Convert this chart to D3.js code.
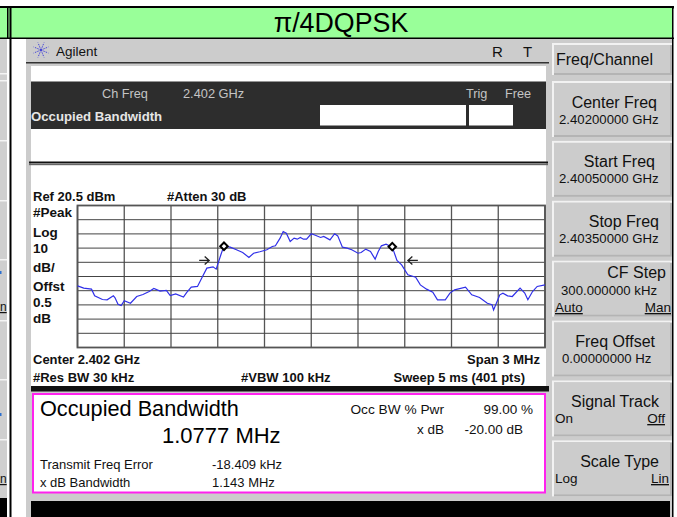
<!DOCTYPE html>
<html>
<head>
<meta charset="utf-8">
<script src="https://cdn.jsdelivr.net/npm/d3@7"></script>
<style>
  html, body { margin: 0; padding: 0; background: #fff; }
  svg { display: block; font-family: "Liberation Sans", Arial, sans-serif; }
</style>
</head>
<body>
<div id="chart"></div>
<script>
// trace: MHz from centre, dBm
const freqOffsets = [-1.50,-1.46,-1.41,-1.39,-1.34,-1.31,-1.27,-1.26,-1.24,-1.22,-1.20,-1.16,-1.12,-1.08,-1.04,-1.01,-0.97,-0.93,-0.905,-0.87,-0.82,-0.80,-0.77,-0.73,-0.70,-0.67,-0.63,-0.61,-0.58,-0.56,-0.52,-0.48,-0.44,-0.40,-0.37,-0.33,-0.285,-0.25,-0.23,-0.20,-0.18,-0.16,-0.135,-0.11,-0.09,-0.07,-0.05,-0.03,0.00,0.03,0.06,0.08,0.12,0.15,0.17,0.20,0.23,0.26,0.30,0.32,0.35,0.38,0.41,0.43,0.45,0.48,0.52,0.55,0.58,0.62,0.67,0.70,0.74,0.78,0.81,0.86,0.89,0.92,0.99,1.03,1.08,1.13,1.16,1.17,1.21,1.23,1.26,1.29,1.34,1.37,1.39,1.42,1.45,1.50];
const levels = [-36.1,-37.7,-38.4,-43.1,-45.7,-45.9,-43.1,-44.3,-49.0,-49.9,-46.6,-48.3,-43.6,-42.2,-40.1,-37.9,-39.8,-39.3,-42.9,-41.7,-44.0,-40.8,-37.0,-36.5,-30.0,-23.6,-22.7,-24.3,-14.2,-7.9,-8.8,-10.7,-12.6,-16.1,-13.1,-12.1,-10.7,-8.4,-7.9,-2.5,2.2,1.0,-4.8,-2.5,-3.2,-2.0,-3.2,-3.2,0.6,-0.6,-2.0,-1.3,-3.7,0.6,-0.9,-8.8,-9.5,-10.7,-13.1,-12.6,-10.2,-11.9,-17.3,-11.9,-7.9,-6.7,-8.8,-18.2,-21.3,-28.3,-30.0,-35.4,-38.4,-40.5,-45.9,-45.9,-41.2,-38.9,-37.0,-42.4,-44.3,-48.3,-49.4,-53.0,-42.4,-41.2,-43.1,-43.6,-37.7,-41.2,-45.9,-40.1,-36.5,-35.4];

const xTicks = [-1.5,-1.2,-0.9,-0.6,-0.3,0,0.3,0.6,0.9,1.2,1.5];
const yTicks = [20.5,10.5,0.5,-9.5,-19.5,-29.5,-39.5,-49.5,-59.5,-69.5,-79.5];

const markerFreqs = [-0.56,0.52];
const markerLevels = [-8.2,-8.5];
const arrowFreqs = [-0.655,0.62];
const arrowLevel = -18.2;

const keyLabels = ["Center Freq","Start Freq","Stop Freq","CF Step","Freq Offset","Signal Track","Scale Type"];
const keyValues = ["2.40200000 GHz","2.40050000 GHz","2.40350000 GHz","300.000000 kHz","0.00000000  Hz",null,null];
const keyLeft = [null,null,null,"Auto",null,"On","Log"];
const keyRight = [null,null,null,"Man",null,"Off","Lin"];
const scaleLabels = ["#Peak","Log","10","dB/","Offst","0.5","dB"];

// softkey text placement, same order as keyLabels
const keyLabelRight = [657,655,659,666,655,659,659];
const keyLabelBase = [108,167,227,278,347,407,467];
const keyValueLeft = [559,559,559,561,562,0,0];
const keyValueBase = [124,183,243,295,363,0,0];
const keySideBase = [0,0,0,312,0,423,483];
const keySideRight = [0,0,0,671,0,665,669];
const scaleLabelBase = [217,236.5,253,271.5,291,307,323];

const W = 677, H = 517;
const svg = d3.select("#chart").append("svg").attr("width", W).attr("height", H);

function rect(x, y, w, h, fill) {
  return svg.append("rect").attr("x", x).attr("y", y).attr("width", w).attr("height", h).attr("fill", fill);
}
function label(x, y, str, size, opts = {}) {
  return svg.append("text").attr("x", x).attr("y", y)
    .attr("font-size", size)
    .attr("font-weight", opts.bold ? "bold" : "normal")
    .attr("fill", opts.fill || "#111")
    .attr("text-anchor", opts.anchor || "start")
    .attr("text-decoration", opts.underline ? "underline" : null)
    .text(str);
}

// left sliver of the neighbouring screenshot
rect(0, 39, 7, 459, "#cfcfcf");
[73, 80, 140, 200, 259, 320, 379, 439].forEach(d => rect(0, d, 7, 1.5, "#f4f4f4"));
rect(0, 498, 7, 19, "#000");
rect(0, 271, 1.5, 3, "#2b6fd0");
rect(0, 413, 1.5, 3, "#2b6fd0");
label(0, 311, "n", 12, { underline: true });
label(0, 483, "n", 12, { underline: true });

// page + title bar
rect(0, 6, 674, 2.5, "#000");
rect(0, 8, 672, 30, "#99ff99");
rect(0, 37.5, 674, 1.5, "#000");
rect(7, 8, 1.5, 30, "#000");
rect(9.5, 8, 2, 509, "#000");
rect(672, 6, 1.5, 511, "#000");
label(341, 32, "π/4DQPSK", 26.8, { anchor: "middle", fill: "#000" });

// instrument window
rect(26, 39, 646, 478, "#cccccc");
rect(31, 66, 515, 325, "#ffffff");
rect(26, 62, 523, 1.5, "#333");
rect(31, 81.5, 515, 47.5, "#2d2d2d");
rect(29, 161.5, 519, 2, "#111");
rect(29, 164, 519, 1.2, "#666");
rect(320, 105, 146, 20.5, "#fff");
rect(469, 105, 44, 20.5, "#fff");

// agilent logo
const logo = svg.append("g").attr("transform", "translate(41,50)").attr("stroke", "#3a3ad8").attr("stroke-width", 0.9).attr("stroke-dasharray", "1.5 1");
d3.range(8).forEach(i => {
  const a = i * Math.PI / 4 + Math.PI / 8;
  logo.append("line").attr("x1", 0).attr("y1", 0).attr("x2", 8 * Math.cos(a)).attr("y2", 8 * Math.sin(a));
});
label(56, 56, "Agilent", 13.5);
label(492, 57, "R", 15);
label(523, 57, "T", 15);

label(102, 98, "Ch Freq", 12.7, { fill: "#c4c4c4" });
label(183, 98, "2.402 GHz", 12.8, { fill: "#c4c4c4" });
label(466, 98, "Trig", 12.7, { fill: "#c4c4c4" });
label(505, 98, "Free", 12.7, { fill: "#c4c4c4" });
label(31, 121, "Occupied Bandwidth", 13.2, { bold: true, fill: "#e6e6e6" });

// trace plot
const margin = { top: 205.5, right: 132, bottom: 169.5, left: 77.5 };
const x = d3.scaleLinear().domain([-1.5, 1.5]).range([margin.left, W - margin.right]);
const y = d3.scaleLinear().domain([20.5, -79.5]).range([margin.top, H - margin.bottom]);

const grid = svg.append("g");
grid.append("g").selectAll("line").data(xTicks).join("line")
  .attr("x1", d => x(d)).attr("x2", d => x(d))
  .attr("y1", y(20.5)).attr("y2", y(-79.5))
  .attr("stroke", "#555").attr("stroke-width", 1.3);
grid.append("g").selectAll("line").data(yTicks).join("line")
  .attr("x1", x(-1.5)).attr("x2", x(1.5))
  .attr("y1", d => y(d)).attr("y2", d => y(d))
  .attr("stroke", "#444").attr("stroke-width", 1);
grid.append("rect")
  .attr("x", x(-1.5)).attr("y", y(20.5))
  .attr("width", x(1.5) - x(-1.5)).attr("height", y(-79.5) - y(20.5))
  .attr("fill", "none").attr("stroke", "#555").attr("stroke-width", 1.8);

const line = d3.line().x((d, i) => x(freqOffsets[i])).y(d => y(d));
svg.append("path").datum(levels).attr("d", line)
  .attr("fill", "none").attr("stroke", "#3030e8").attr("stroke-width", 1.2);

// occupied bandwidth markers
svg.append("g").selectAll("path").data(markerFreqs).join("path")
  .attr("d", d3.symbol(d3.symbolSquare, 28))
  .attr("transform", (d, i) => `translate(${x(d)},${y(markerLevels[i])}) rotate(45)`)
  .attr("fill", "#fff").attr("stroke", "#000").attr("stroke-width", 2);
svg.append("g").selectAll("path").data(arrowFreqs).join("path")
  .attr("d", (d, i) => i === 0 ? "M-10,0H0M-4.5,-4L0,0L-4.5,4" : "M10,0H0M4.5,-4L0,0L4.5,4")
  .attr("transform", d => `translate(${x(d)},${y(arrowLevel)})`)
  .attr("fill", "none").attr("stroke", "#222").attr("stroke-width", 1.3);

// labels round the plot
label(33, 201, "Ref 20.5 dBm", 13, { bold: true });
label(167, 201, "#Atten 30 dB", 13, { bold: true });
scaleLabels.forEach((d, i) => label(33, scaleLabelBase[i], d, 13.5, { bold: true }));
label(33, 364, "Center 2.402 GHz", 13, { bold: true });
label(540, 364, "Span 3 MHz", 13, { bold: true, anchor: "end" });
label(33, 382, "#Res BW 30 kHz", 13, { bold: true });
label(241, 382, "#VBW 100 kHz", 13, { bold: true });
label(525, 382, "Sweep 5 ms (401 pts)", 13, { bold: true, anchor: "end" });

// results box
rect(31, 386, 518, 5.5, "#111");
svg.append("rect").attr("x", 33).attr("y", 394).attr("width", 512).attr("height", 98.5)
  .attr("fill", "#fff").attr("stroke", "#ff22ee").attr("stroke-width", 2);
label(40, 416, "Occupied Bandwidth", 21.7, { fill: "#000" });
label(162, 443, "1.0777 MHz", 22, { fill: "#000" });
label(40, 469, "Transmit Freq Error", 13);
label(212, 469, "-18.409 kHz", 13);
label(40, 487, "x dB Bandwidth", 13);
label(212, 487, "1.143 MHz", 13);
label(444, 414, "Occ BW % Pwr", 13.7, { anchor: "end" });
label(533, 414, "99.00 %", 13.5, { anchor: "end" });
label(444, 434, "x dB", 13.5, { anchor: "end" });
label(523, 434, "-20.00 dB", 13.5, { anchor: "end" });

// bottom black bar
rect(31, 501, 639, 16, "#000");

// softkeys
function keyBox(yTop, h) {
  rect(552, yTop, 120, h, "#f2f2f2");
  rect(554, yTop + 2, 118, h - 2, "#b4b4b4");
  rect(554, yTop + 2, 116, h - 4, "#cccccc");
}
keyBox(43, 32);
label(556, 65, "Freq/Channel", 16);
keyLabels.forEach((k, i) => {
  keyBox(81 + i * 59.9, 56);
  label(keyLabelRight[i], keyLabelBase[i], k, 16, { anchor: "end" });
  if (keyValues[i]) label(keyValueLeft[i], keyValueBase[i], keyValues[i], 13.2);
  if (keyLeft[i]) label(555, keySideBase[i], keyLeft[i], 13.5, { underline: keyLeft[i] === "Auto" });
  if (keyRight[i]) label(keySideRight[i], keySideBase[i], keyRight[i], 13.5, { anchor: "end", underline: true });
});
</script>
</body>
</html>
